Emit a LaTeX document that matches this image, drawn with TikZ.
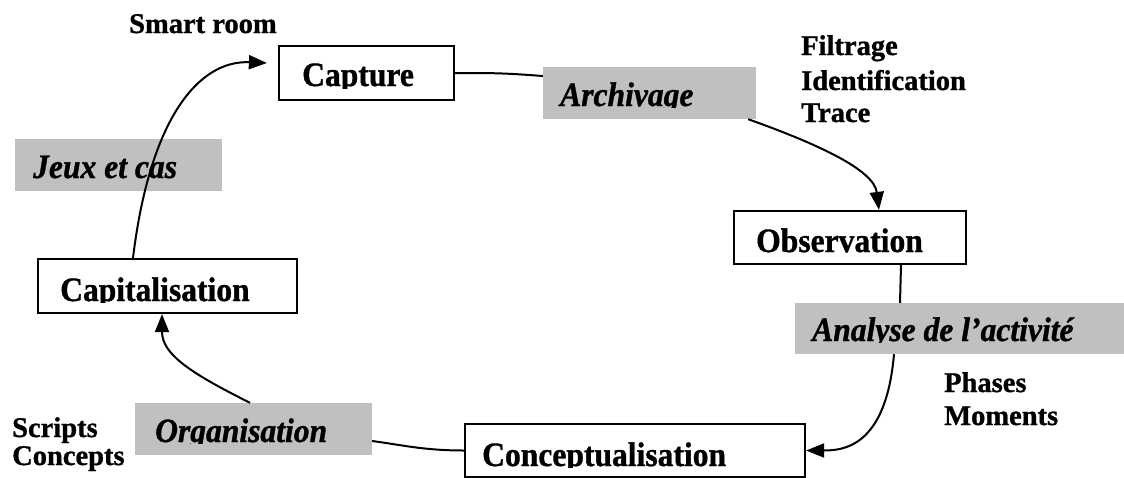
\documentclass[tikz,border=0pt]{standalone}
\usepackage{fontspec}
\setmainfont{Liberation Serif}[BoldFeatures={FakeBold=1.0}, BoldItalicFeatures={FakeBold=1.0}]
\newfontfamily\bigserif{Liberation Serif}[FakeStretch=0.926, BoldFeatures={FakeBold=1.0}, BoldItalicFeatures={FakeBold=1.0}]
\usetikzlibrary{arrows.meta}
\definecolor{labelgray}{RGB}{192,192,192}
\tikzset{
  frame/.style={draw=black, line width=2.2pt, inner sep=0pt, fill=white},
  graybox/.style={fill=labelgray, inner sep=0pt},
  boxtext/.style={font=\bigserif\fontsize{34.1}{38}\selectfont\bfseries, inner sep=0pt, anchor=base west},
  labeltext/.style={font=\bigserif\fontsize{34.1}{38}\selectfont\bfseries\itshape, inner sep=0pt, anchor=base west},
  note/.style={font=\fontsize{28.5}{34}\selectfont\bfseries, inner sep=0pt, anchor=base west},
  flow/.style={line width=2pt},
  arrowflow/.style={flow, -{Triangle[length=18pt,width=14pt]}}
}
\begin{document}
\begin{tikzpicture}[x=1pt,y=-1pt]
\useasboundingbox (0,0) rectangle (1124,477);

% boxes
\node[frame, minimum width=175pt, minimum height=54pt] (capture) at (366.5,73) {};
\node[frame, minimum width=232pt, minimum height=53pt] (observation) at (850,237.5) {};
\node[frame, minimum width=259pt, minimum height=54pt] (capitalisation) at (167.5,286) {};
\node[frame, minimum width=340pt, minimum height=53pt] (conceptualisation) at (635,450.5) {};

% gray labels
\node[graybox, minimum width=213pt, minimum height=52pt] (archivage) at (649.5,93) {};
\node[graybox, minimum width=329pt, minimum height=51pt] (analyse) at (959.5,328.5) {};
\node[graybox, minimum width=207pt, minimum height=52pt] (jeux) at (118.5,165) {};
\node[graybox, minimum width=237pt, minimum height=52pt] (organisation) at (253.5,429) {};

% texts (clipped at the bottom as in the original)
\begin{scope}\clip (0,0) rectangle (1124,88);
\node[boxtext] (capture-t) at (302,86) {Capture};
\end{scope}
\node[boxtext] (observation-t) at (756,252) {Observation};
\begin{scope}\clip (0,0) rectangle (1124,302);
\node[boxtext] (capitalisation-t) at (60,301) {Capitalisation};
\end{scope}
\begin{scope}\clip (0,0) rectangle (1124,467);
\node[boxtext] (conceptualisation-t) at (482,466) {Conceptualisation};
\end{scope}
\begin{scope}\clip (0,0) rectangle (1124,107);
\node[labeltext] (archivage-t) at (560,106) {Archivage};
\end{scope}
\begin{scope}\clip (0,0) rectangle (1124,342);
\node[labeltext] (analyse-t) at (812,341) {Analyse de l’activité};
\end{scope}
\node[labeltext] (jeux-t) at (33,178) {Jeux et cas};
\begin{scope}\clip (0,0) rectangle (1124,443);
\node[labeltext] (organisation-t) at (155,442) {Organisation};
\end{scope}

% notes
\node[note] (smart) at (129,33) {Smart room};
\node[note] (filtrage) at (801,55) {Filtrage};
\node[note] (identification) at (801,90) {Identification};
\node[note] (trace) at (801,122) {Trace};
\node[note] (phases) at (944,392) {Phases};
\node[note] (moments) at (944,425) {Moments};
\node[note] (scripts) at (12,437) {Scripts};
\node[note] (concepts) at (12,465) {Concepts};

% connectors
\draw[flow] (capture.east) .. controls +(40,0) and +(-40,-3) .. ([yshift=17pt]archivage.west);
\draw[arrowflow] ([xshift=-8pt]archivage.south east) .. controls +(70,25) and +(-5,-40) .. ([xshift=29pt]observation.north);
\draw[flow] ([xshift=51pt]observation.south) -- ([xshift=-59.5pt]analyse.north);
\draw[arrowflow] ([xshift=-65.5pt]analyse.south) .. controls +(-8,92) and +(38,0) .. (conceptualisation.west -| conceptualisation.east);
\draw[flow] (conceptualisation.west) .. controls +(-40,0) and +(30,4) .. ([yshift=-12pt]organisation.east);
\draw[arrowflow] ([xshift=-3.5pt]organisation.north) .. controls +(-60,-30) and +(0,40) .. ([xshift=-5.5pt]capitalisation.south);
\draw[arrowflow] ([xshift=-34.5pt]capitalisation.north) .. controls +(17,-140) and +(-68,-3) .. ([xshift=-11pt,yshift=10pt]capture.west);
\end{tikzpicture}
\end{document}
